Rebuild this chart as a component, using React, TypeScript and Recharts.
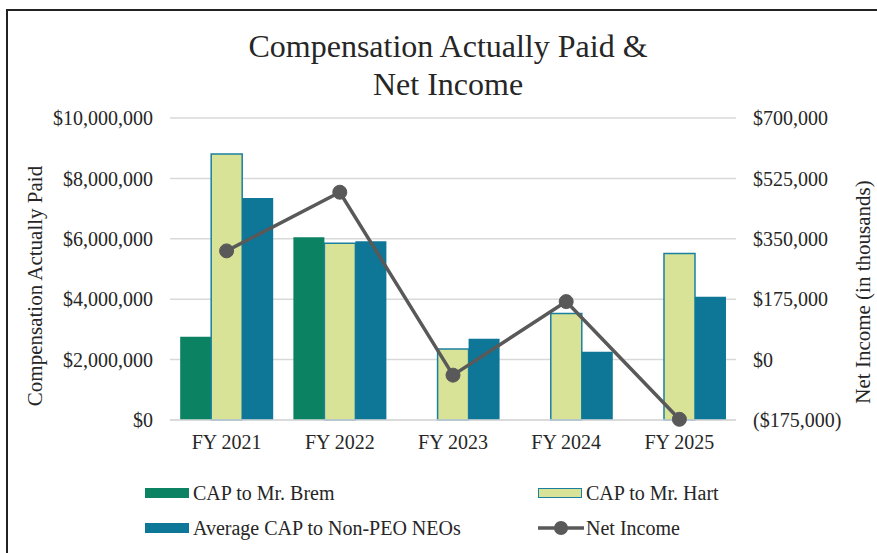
import React from 'react';
import {
  ComposedChart, Bar, Line, XAxis, YAxis, CartesianGrid,
} from 'recharts';

// values
const years = ['FY 2021', 'FY 2022', 'FY 2023', 'FY 2024', 'FY 2025'];
const capBrem = [2760000, 6050000, null, null, null];
const capHart = [8810000, 5850000, 2350000, 3530000, 5510000];
const capNonPeo = [7350000, 5920000, 2690000, 2260000, 4080000];
const netIncome = [315000, 485000, -45000, 168000, -173000];

const leftTicks = [0, 2000000, 4000000, 6000000, 8000000, 10000000];
const rightTicks = [-175000, 0, 175000, 350000, 525000, 700000];

const BREM = '#0b8262';
const HART = '#d8e397';
const HART_EDGE = '#1b80a0';
const NONPEO = '#0e7697';
const LINE = '#595959';
const TEXT = '#262626';
const FONT = '"Liberation Serif", "Times New Roman", serif';

const data = years.map((year, i) => ({
  year,
  brem: capBrem[i],
  hart: capHart[i],
  nonPeo: capNonPeo[i],
  net: netIncome[i],
}));

const fmtLeft = (v: number) => `$${v.toLocaleString('en-US')}`;
const fmtRight = (v: number) =>
  v < 0 ? `($${Math.abs(v).toLocaleString('en-US')})` : `$${v.toLocaleString('en-US')}`;

const tickStyle = { fontSize: 20, fill: TEXT, fontFamily: FONT };

const LegendItem: React.FC<{ kind: 'brem' | 'hart' | 'nonPeo' | 'line'; label: string; x: number; y: number }> = ({ kind, label, x, y }) => {
  let icon: React.ReactNode;
  if (kind === 'line') {
    icon = (
      <svg width={46} height={16} style={{ display: 'block' }}>
        <line x1={0} y1={8} x2={46} y2={8} stroke={LINE} strokeWidth={3.5} />
        <circle cx={23} cy={8} r={7} fill={LINE} />
      </svg>
    );
  } else {
    const fill = kind === 'brem' ? BREM : kind === 'hart' ? HART : NONPEO;
    icon = (
      <div style={{
        width: 44, height: 10, background: fill, boxSizing: 'border-box',
        border: kind === 'hart' ? `1.5px solid ${HART_EDGE}` : 'none',
      }} />
    );
  }
  return (
    <div style={{ position: 'absolute', left: x, top: y - 12, height: 24, display: 'flex', alignItems: 'center' }}>
      <div style={{ width: 48 }}>{icon}</div>
      <span style={{ fontSize: 20, color: TEXT, fontFamily: FONT, whiteSpace: 'nowrap' }}>{label}</span>
    </div>
  );
};

export default function App() {
  return (
    <div style={{ position: 'absolute', left: 0, top: 0, width: 877, height: 553, overflow: 'hidden', background: '#fff', fontFamily: FONT }}>
      {/* frame */}
      <div style={{ position: 'absolute', left: 6, top: 9, width: 900, height: 600, borderLeft: '2px solid #222', borderTop: '2px solid #222' }} />

      {/* title */}
      <div style={{ position: 'absolute', left: 0, width: 896, top: 27, textAlign: 'center', fontSize: 32, lineHeight: '38px', color: TEXT }}>
        Compensation Actually Paid &amp;<br />Net Income
      </div>

      <div style={{ position: 'absolute', left: 0, top: 0 }}>
        <ComposedChart
          width={877}
          height={553}
          data={data}
          margin={{ top: 118, right: 41, bottom: 93, left: 70 }}
          barCategoryGap="9%"
          barGap={0}
        >
          <CartesianGrid vertical={false} stroke="#d9d9d9" strokeWidth={1.5} yAxisId="left" />
          <XAxis
            dataKey="year"
            tick={tickStyle}
            tickLine={false}
            axisLine={{ stroke: '#d9d9d9', strokeWidth: 1.5 }}
            tickSize={0}
            tickMargin={15}
            height={40}
            interval={0}
          />
          <YAxis
            yAxisId="left"
            domain={[0, 10000000]}
            ticks={leftTicks}
            tickFormatter={fmtLeft}
            tick={tickStyle}
            tickLine={false}
            axisLine={false}
            tickSize={0}
            tickMargin={17}
            width={100}
            interval={0}
          />
          <YAxis
            yAxisId="right"
            orientation="right"
            domain={[-175000, 700000]}
            ticks={rightTicks}
            tickFormatter={fmtRight}
            tick={tickStyle}
            tickLine={false}
            axisLine={false}
            tickSize={0}
            tickMargin={17}
            width={100}
            interval={0}
          />
          <Bar yAxisId="left" dataKey="brem" name="CAP to Mr. Brem" fill={BREM} isAnimationActive={false} />
          <Bar yAxisId="left" dataKey="hart" name="CAP to Mr. Hart" fill={HART} stroke={HART_EDGE} strokeWidth={1.5} isAnimationActive={false} />
          <Bar yAxisId="left" dataKey="nonPeo" name="Average CAP to Non-PEO NEOs" fill={NONPEO} isAnimationActive={false} />
          <Line
            yAxisId="right"
            type="linear"
            dataKey="net"
            name="Net Income"
            stroke={LINE}
            strokeWidth={3.5}
            dot={{ r: 7, fill: LINE, stroke: LINE, strokeWidth: 1 }}
            activeDot={false}
            isAnimationActive={false}
          />
        </ComposedChart>
      </div>

      {/* axis titles */}
      <div style={{ position: 'absolute', left: 35, top: 286, transform: 'translate(-50%, -50%) rotate(-90deg)', fontSize: 21, color: TEXT, whiteSpace: 'nowrap' }}>
        Compensation Actually Paid
      </div>
      <div style={{ position: 'absolute', left: 863, top: 292, transform: 'translate(-50%, -50%) rotate(-90deg)', fontSize: 21, color: TEXT, whiteSpace: 'nowrap' }}>
        Net Income (in thousands)
      </div>

      {/* legend */}
      <LegendItem kind="brem" label="CAP to Mr. Brem" x={145} y={493} />
      <LegendItem kind="hart" label="CAP to Mr. Hart" x={538} y={493} />
      <LegendItem kind="nonPeo" label="Average CAP to Non-PEO NEOs" x={145} y={528} />
      <LegendItem kind="line" label="Net Income" x={538} y={528} />
    </div>
  );
}
